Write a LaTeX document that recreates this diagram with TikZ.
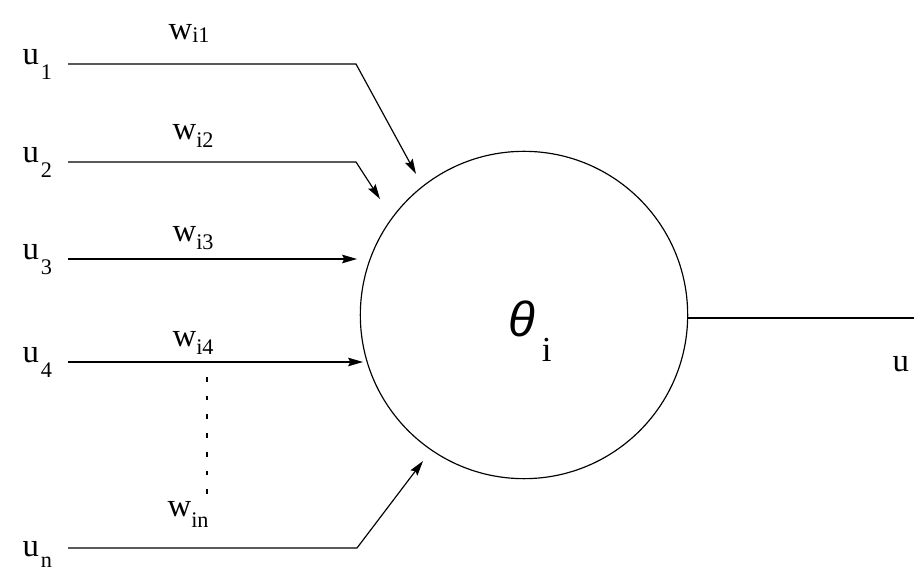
\documentclass[tikz,border=0pt]{standalone}
\usepackage{fontspec}
\setmainfont{Liberation Serif}
\newfontfamily\thetafont{Liberation Sans}
\usetikzlibrary{arrows.meta}

% subscript set apart from its letter, dropped by #1
\newcommand{\lowsub}[2]{\raisebox{-#1}{\fontsize{19}{19}\selectfont #2}}

\begin{document}
\begin{tikzpicture}[x=0.03cm, y=-0.03cm, line width=1pt,
    >={Stealth[length=4.5mm, width=2.6mm, inset=0.7mm]},
    inlabel/.style={anchor=base west, inner sep=0pt, font=\fontsize{28}{28}\selectfont},
    wlabel/.style={anchor=base west, inner sep=0pt, font=\fontsize{28}{28}\selectfont}]
  \useasboundingbox (0,0) rectangle (914,572);

  % the unit
  \node[draw, circle, minimum size=9.82cm, inner sep=0pt] (neuron) at (524,315) {};
  \node[anchor=base west, inner sep=0pt] (theta) at (508,337)
    {\fontsize{42}{42}\thetafont\itshape θ\kern0.2cm\raisebox{-0.75cm}{\rmfamily\upshape\fontsize{30}{30}\selectfont i}};

  % inputs
  \node[inlabel] (u1) at (22,65) {u\kern0.06cm\lowsub{0.45cm}{1}};
  \node[inlabel] (u2) at (22,163) {u\kern0.06cm\lowsub{0.45cm}{2}};
  \node[inlabel] (u3) at (22,260) {u\kern0.06cm\lowsub{0.45cm}{3}};
  \node[inlabel] (u4) at (22,363) {u\kern0.06cm\lowsub{0.45cm}{4}};
  \node[inlabel] (un) at (22,557) {u\kern0.06cm\lowsub{0.33cm}{n}};

  \coordinate (s1) at (68,64);   \coordinate (b1) at (356,64);  \coordinate (t1) at (416,174);
  \coordinate (s2) at (68,162);  \coordinate (b2) at (356,162); \coordinate (t2) at (380,199);
  \coordinate (s3) at (68,259);  \coordinate (t3) at (357,259);
  \coordinate (s4) at (68,362);  \coordinate (t4) at (363,362);
  \coordinate (sn) at (68,548);  \coordinate (bn) at (357,548); \coordinate (tn) at (423,461);

  \draw[->] (s1) -- (b1) -- (t1);
  \draw[->] (s2) -- (b2) -- (t2);
  \draw[->] (s3) -- (t3);
  \draw[->] (s4) -- (t4);
  \draw[->] (sn) -- (bn) -- (tn);

  % weights
  \node[wlabel] (w1) at (168,40) {w\lowsub{0.09cm}{i1}};
  \node[wlabel] (w2) at (172,140) {w\lowsub{0.24cm}{i2}};
  \node[wlabel] (w3) at (172,242) {w\lowsub{0.24cm}{i3}};
  \node[wlabel] (w4) at (172,347) {w\lowsub{0.24cm}{i4}};
  \node[wlabel] (wn) at (167,517) {w\lowsub{0.33cm}{in}};

  \coordinate (d1) at (207,377);
  \coordinate (d2) at (207,500);
  \draw[line width=1.3pt, dash pattern=on 4pt off 12pt] (d1) -- (d2);

  % output
  \coordinate (out) at (914,318);
  \draw (neuron.east |- out) -- (out);
  \node[anchor=base west, inner sep=0pt, font=\fontsize{28}{28}\selectfont] (uout) at (892,372) {u};
\end{tikzpicture}
\end{document}
